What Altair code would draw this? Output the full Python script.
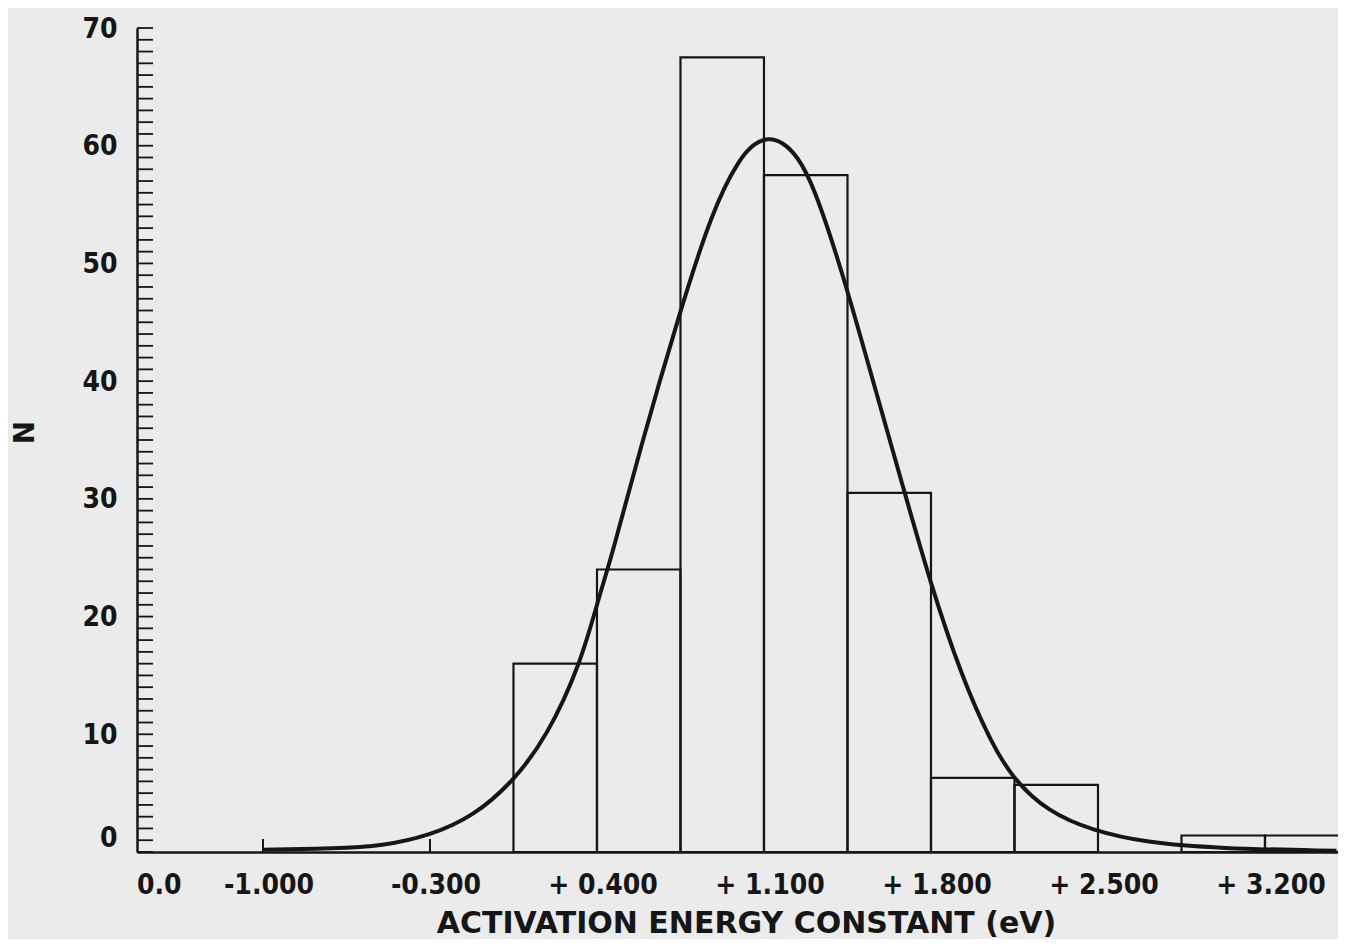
import altair as alt
import pandas as pd

# ---------------- data ----------------
bin_starts = [0.05, 0.40, 0.75, 1.10, 1.45, 1.80, 2.15, 2.85, 3.20]
bin_width = 0.35
counts = [16, 24, 67.5, 57.5, 30.5, 6.3, 5.7, 1.4, 1.4]

curve_x = [-1.00, -0.70, -0.50, -0.30, -0.12, 0.05, 0.19, 0.33, 0.41, 0.46,
           0.58, 0.74, 0.886, 1.00, 1.06, 1.117, 1.18, 1.24, 1.305, 1.43,
           1.557, 1.686, 1.795, 1.93, 2.05, 2.14, 2.29, 2.48, 2.70, 3.00, 3.50]
curve_y = [0.2, 0.3, 0.5, 1.4, 3.0, 6.0, 9.8, 15.9, 21.8, 25.0,
           34.2, 45.4, 54.7, 59.0, 60.2, 60.7, 60.3, 59.1, 56.8, 49.2,
           40.0, 30.8, 23.0, 14.8, 9.4, 6.3, 3.4, 1.8, 0.8, 0.3, 0.1]

x_tick_values = [-1.0, -0.3, 0.4, 1.1, 1.8, 2.5, 3.2]
x_tick_labels = ["-1.000", "-0.300", "+ 0.400", "+ 1.100", "+ 1.800", "+ 2.500", "+ 3.200"]
origin_label = ["0.0"]
y_label_values = [0, 10, 20, 30, 40, 50, 60, 70]
y_minor_ticks = list(range(0, 71))

X_DOMAIN = [-1.528, 3.506]
Y_DOMAIN = [0, 70]

# ---------------- style ----------------
INK = "#161616"
BG = "#ebebeb"
FONT = "DejaVu Sans Condensed"
TFONT = "DejaVu Sans"
FS = 28
W, H = 1201, 824

bars_df = pd.DataFrame({
    "start": bin_starts,
    "end": [s + bin_width for s in bin_starts],
    "count": counts,
})
curve_df = pd.DataFrame({"x": curve_x, "y": curve_y})
xt_df = pd.DataFrame({"v": x_tick_values, "t": x_tick_labels})
origin_df = pd.DataFrame({"t": origin_label})
ym_df = pd.DataFrame({"v": y_minor_ticks})

xscale = alt.Scale(domain=X_DOMAIN, nice=False, zero=False)
yscale = alt.Scale(domain=Y_DOMAIN, nice=False, zero=False)

x_axis = alt.Axis(
    title="ACTIVATION ENERGY CONSTANT (eV)",
    labels=False, ticks=False, grid=False,
    domainColor=INK, domainWidth=2.5,
    titleFont=TFONT, titleFontSize=30, titleFontWeight="bold", titleColor=INK,
    titleX=609, titleY=80, titleAlign="center", titleBaseline="alphabetic",
)
y_axis = alt.Axis(
    title="N", values=y_label_values,
    ticks=False, grid=False,
    domainColor=INK, domainWidth=2.5,
    labelFont=FONT, labelFontSize=FS, labelFontWeight="bold", labelColor=INK,
    labelPadding=20,
    labelOffset={"condition": {"test": "datum.value == 0", "value": -14}, "value": 1},
    titleFont=TFONT, titleFontSize=FS, titleFontWeight="bold", titleColor=INK,
    titleAngle=270, titleX=-112, titleY=404, titleAlign="center", titleBaseline="middle",
)

bars = alt.Chart(bars_df).mark_bar(
    fill="transparent", stroke=INK, strokeWidth=2.2, clip=True
).encode(
    x=alt.X("start:Q", scale=xscale, axis=x_axis),
    x2="end:Q",
    y=alt.Y("count:Q", scale=yscale, axis=y_axis),
    y2=alt.datum(0),
)

curve = alt.Chart(curve_df).mark_line(
    color=INK, strokeWidth=4, interpolate="basis", clip=True
).encode(
    x=alt.X("x:Q", scale=xscale, axis=x_axis),
    y=alt.Y("y:Q", scale=yscale, axis=y_axis),
)

y_ticks = alt.Chart(ym_df).mark_rule(color=INK, strokeWidth=1.8).encode(
    y=alt.Y("v:Q", scale=yscale, axis=y_axis),
    x=alt.value(0), x2=alt.value(16),
)

x_ticks = alt.Chart(xt_df).mark_rule(color=INK, strokeWidth=2).encode(
    x=alt.X("v:Q", scale=xscale, axis=x_axis),
    y=alt.value(H - 13), y2=alt.value(H),
)

x_labels = alt.Chart(xt_df).mark_text(
    font=FONT, fontSize=FS, fontWeight="bold", color=INK,
    align="center", baseline="middle", dx=6,
).encode(
    x=alt.X("v:Q", scale=xscale, axis=x_axis),
    y=alt.value(H + 34),
    text="t:N",
)

x_origin = alt.Chart(origin_df).mark_text(
    font=FONT, fontSize=FS, fontWeight="bold", color=INK,
    align="left", baseline="middle",
).encode(
    x=alt.value(0),
    y=alt.value(H + 34),
    text="t:N",
)

chart = alt.layer(bars, curve, y_ticks, x_ticks, x_labels, x_origin).properties(
    width=W, height=H,
    padding={"left": 129, "top": 20, "right": 0, "bottom": 87},
    autosize=alt.AutoSizeParams(type="none"),
    background=BG,
).configure_view(strokeWidth=0)

chart.save("out.html", embed_options={"renderer": "svg", "actions": False})
